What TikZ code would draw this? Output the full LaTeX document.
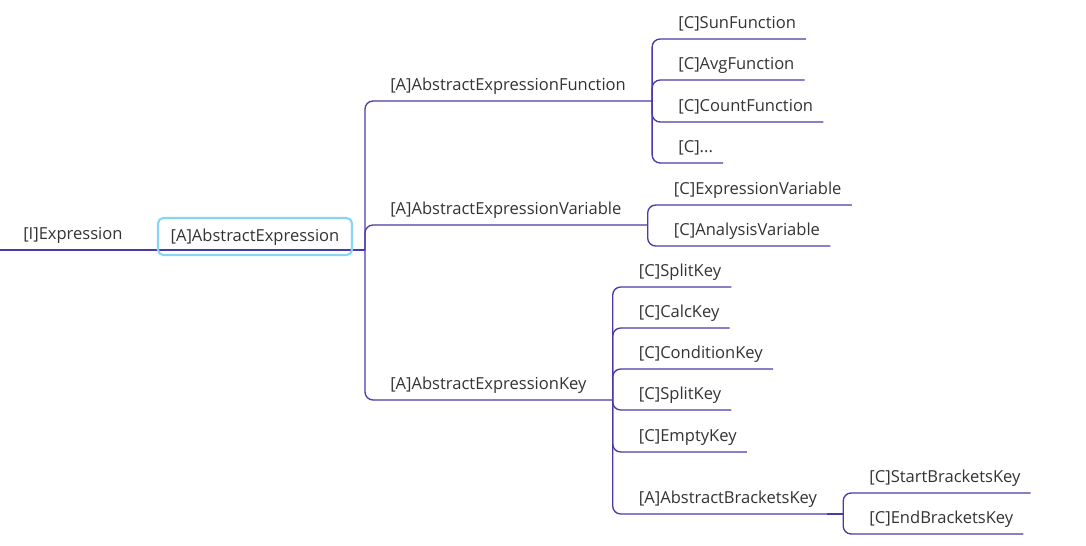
\documentclass[tikz,border=0pt]{standalone}
\usepackage{fontspec}
\setmainfont{Open Sans}
\usetikzlibrary{calc}
\definecolor{linkc}{HTML}{4A3AA8}
\definecolor{boxc}{HTML}{88D4F8}
\definecolor{txtc}{HTML}{333333}
\newcommand*{\gap}{16}
\newcommand*{\ind}{16}

\begin{document}
\begin{tikzpicture}[x=0.75pt, y=-0.75pt, font=\fontsize{12.4}{15}\selectfont,
    topic/.style={anchor=south west, text=txtc, inner xsep=7.5pt, inner ysep=7.5pt, text height=9pt, text depth=0pt},
    link/.style={draw=linkc, line width=1pt, rounded corners=6pt},
    mainbox/.style={draw=boxc, line width=1.6pt, rounded corners=4pt, text=txtc, text height=9pt, text depth=2pt, minimum width=145.5pt, minimum height=27.75pt}]
    \useasboundingbox (0,0) rectangle (1086,546);
    % root and main box
    \coordinate (start) at (0,250);
    \coordinate (fk0) at (365,250);
    \node[topic] (root) at (13,250) {[I]Expression};
    \draw[link] (start) -- (fk0);
    \node[mainbox] (abs) at (255,236.5) {[A]AbstractExpression};
    % first level
    \node[topic] (fn)  at (380,101) {[A]AbstractExpressionFunction};
    \node[topic] (var) at (380,225) {[A]AbstractExpressionVariable};
    \node[topic] (key) at (380,400) {[A]AbstractExpressionKey};
    \coordinate (fkfn)  at ($(fn.south east)+(\gap,0)$);
    \coordinate (fkvar) at ($(var.south east)+(\gap,0)$);
    \coordinate (fkkey) at ($(key.south east)+(\gap,0)$);
    \draw[link] (fk0) |- (fn.south east) -- (fkfn);
    \draw[link] (fk0) |- (var.south east) -- (fkvar);
    \draw[link] (fk0) |- (key.south east) -- (fkkey);
    % functions
    \node[topic] (sun) at ($(fkfn |- 0,39)+(\ind,0)$)  {[C]SunFunction};
    \node[topic] (avg) at ($(fkfn |- 0,80)+(\ind,0)$)  {[C]AvgFunction};
    \node[topic] (cnt) at ($(fkfn |- 0,122)+(\ind,0)$) {[C]CountFunction};
    \node[topic] (etc) at ($(fkfn |- 0,163)+(\ind,0)$) {[C]...};
    \draw[link] (fkfn) |- (sun.south east);
    \draw[link] (fkfn) |- (avg.south east);
    \draw[link] (fkfn) |- (cnt.south east);
    \draw[link] (fkfn) |- (etc.south east);
    % variables
    \node[topic] (exv) at ($(fkvar |- 0,205)+(\ind,0)$) {[C]ExpressionVariable};
    \node[topic] (anv) at ($(fkvar |- 0,246)+(\ind,0)$) {[C]AnalysisVariable};
    \draw[link] (fkvar) |- (exv.south east);
    \draw[link] (fkvar) |- (anv.south east);
    % keys
    \node[topic] (spl)  at ($(fkkey |- 0,287)+(\ind,0)$) {[C]SplitKey};
    \node[topic] (calc) at ($(fkkey |- 0,328)+(\ind,0)$) {[C]CalcKey};
    \node[topic] (cond) at ($(fkkey |- 0,369)+(\ind,0)$) {[C]ConditionKey};
    \node[topic] (spl2) at ($(fkkey |- 0,410)+(\ind,0)$) {[C]SplitKey};
    \node[topic] (emp)  at ($(fkkey |- 0,452)+(\ind,0)$) {[C]EmptyKey};
    \node[topic] (brk)  at ($(fkkey |- 0,514)+(\ind,0)$) {[A]AbstractBracketsKey};
    \draw[link] (fkkey) |- (spl.south east);
    \draw[link] (fkkey) |- (calc.south east);
    \draw[link] (fkkey) |- (cond.south east);
    \draw[link] (fkkey) |- (spl2.south east);
    \draw[link] (fkkey) |- (emp.south east);
    \draw[link] (fkkey) |- (brk.south east);
    % brackets
    \coordinate (fkbrk) at ($(brk.south east)+(\gap,0)$);
    \draw[link] (brk.south east) -- (fkbrk);
    \node[topic] (sbk) at ($(fkbrk |- 0,493)+(\ind,0)$) {[C]StartBracketsKey};
    \node[topic] (ebk) at ($(fkbrk |- 0,534)+(\ind,0)$) {[C]EndBracketsKey};
    \draw[link] (fkbrk) |- (sbk.south east);
    \draw[link] (fkbrk) |- (ebk.south east);
\end{tikzpicture}
\end{document}
